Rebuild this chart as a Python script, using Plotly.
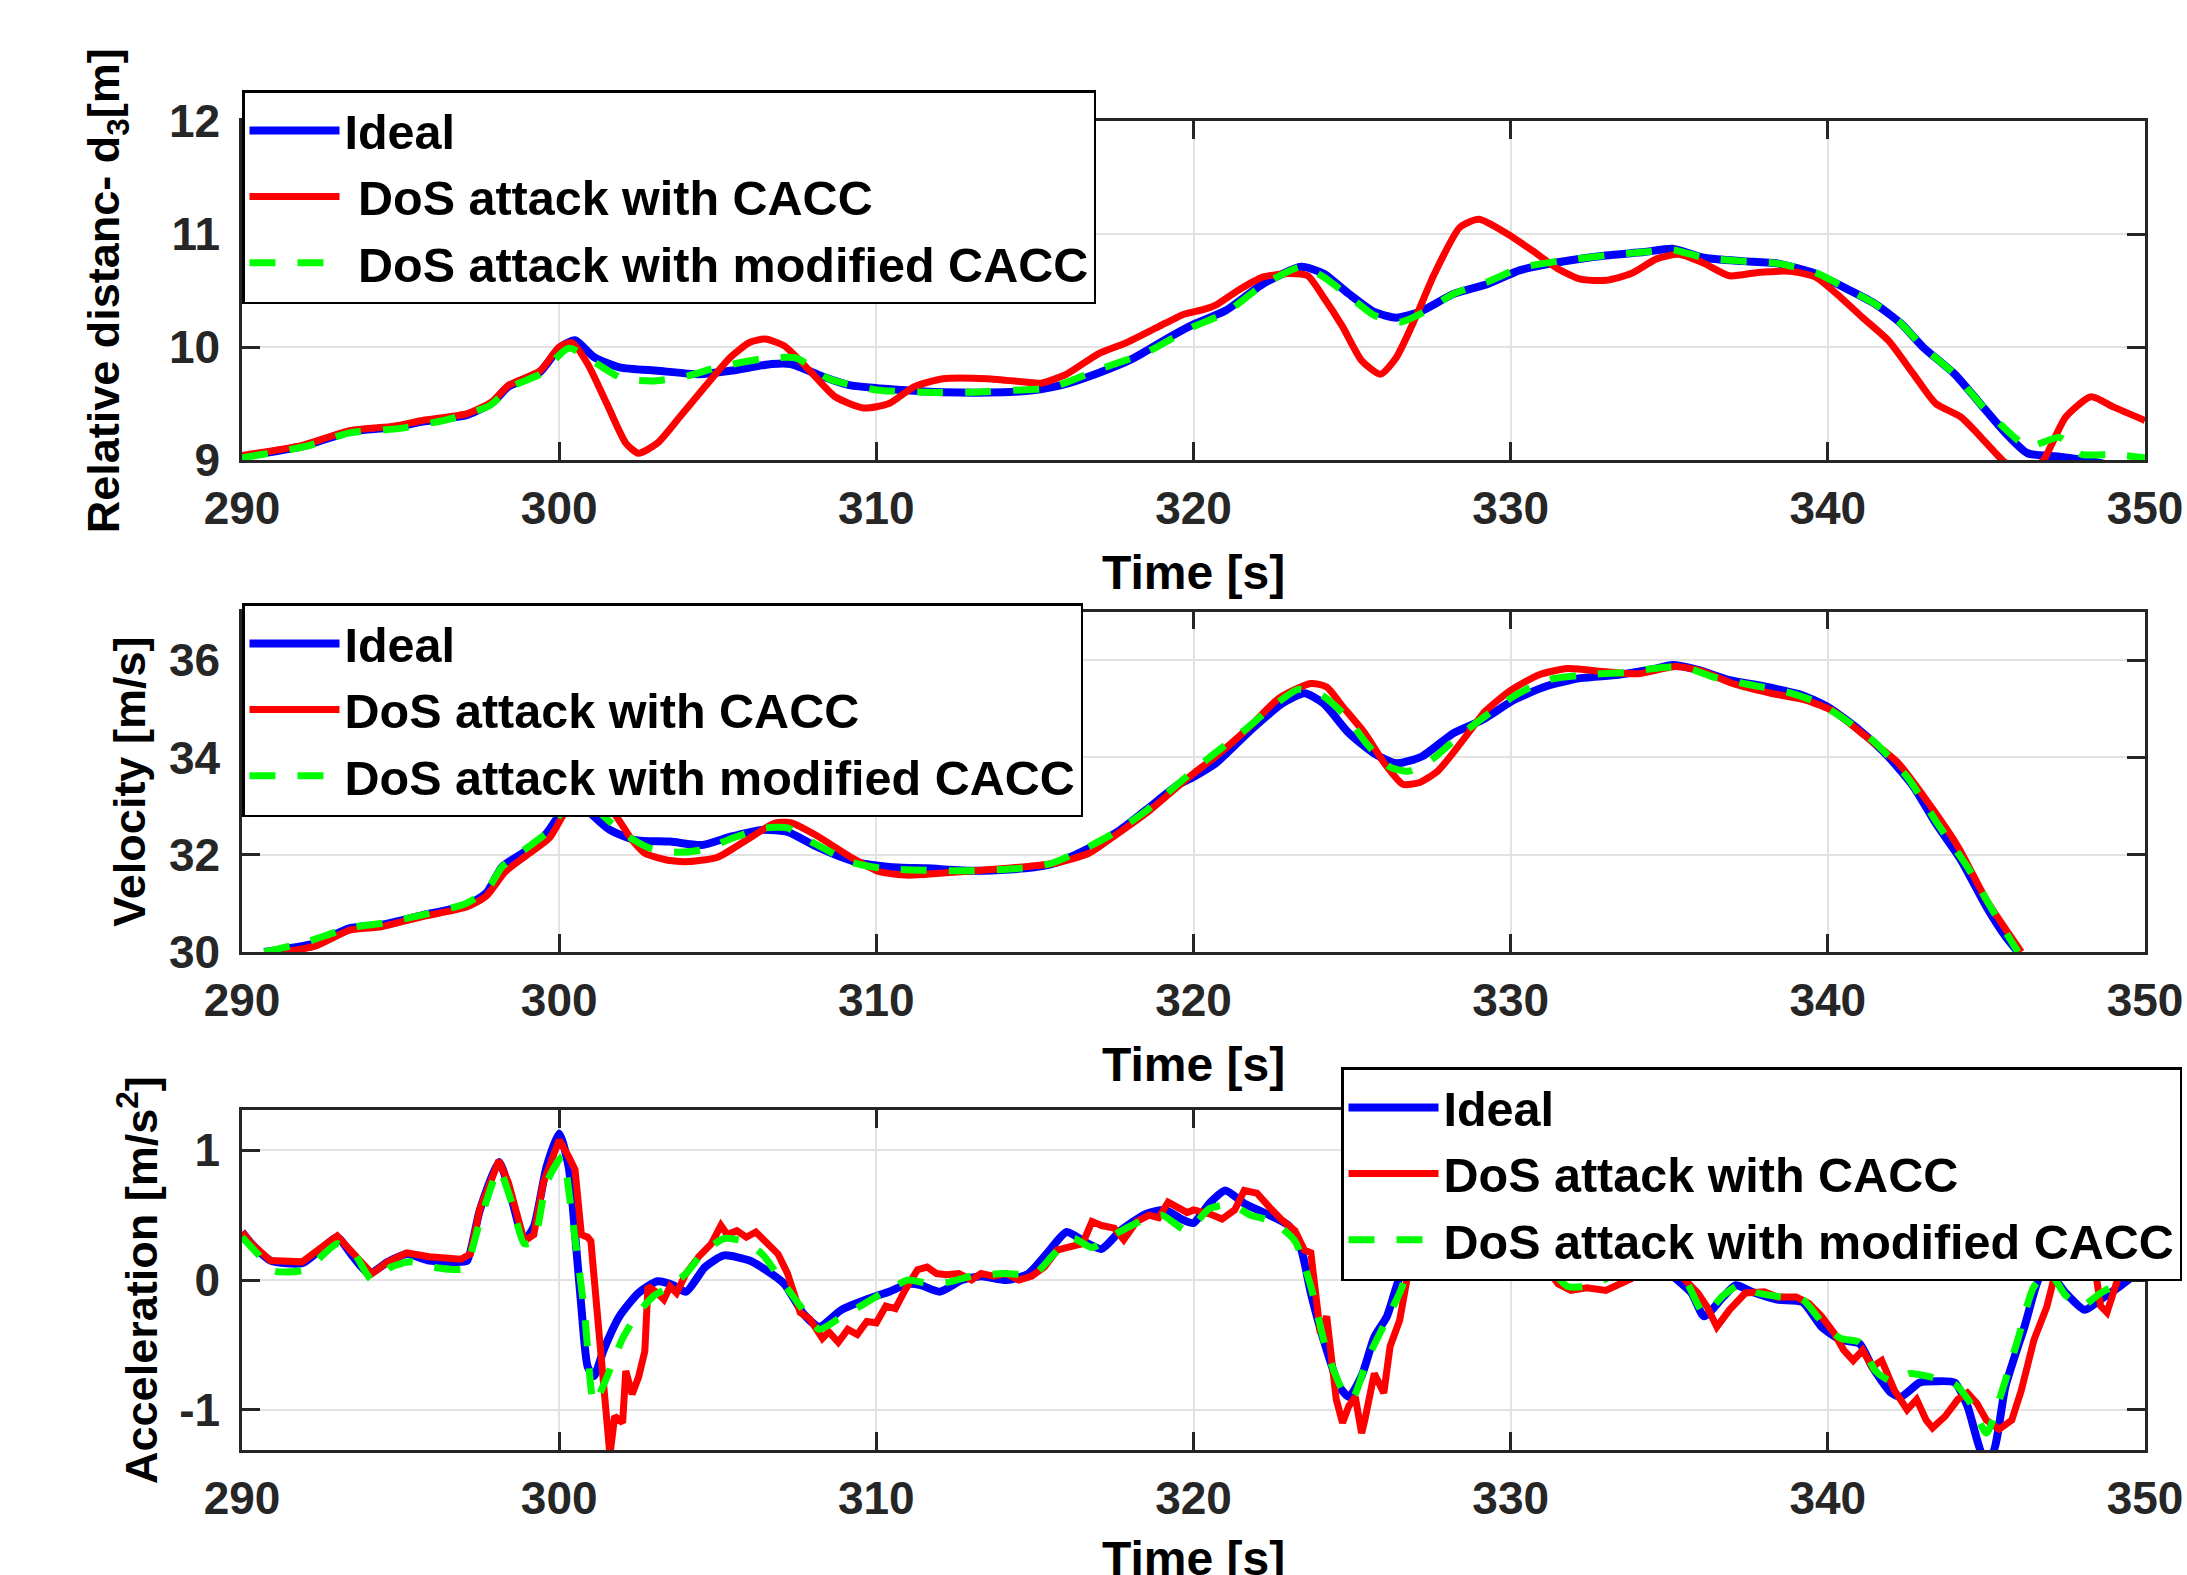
import plotly.graph_objects as go

# ---------------- DATA ----------------
# Top: relative distance d3 [m]
t_d_ideal = [290, 291.9, 293.4, 294.8, 295.7, 297.1, 297.9, 298.4, 299.4, 300.0, 300.5, 301.1, 301.9, 303.1, 304.4, 305.4, 306.7, 307.3, 308.3, 309.2, 310.8, 312.1, 314.0, 315.0, 315.8, 316.9, 318.1, 319.2, 320.0, 321.0, 322.2, 323.4, 324.1, 324.9, 325.7, 326.4, 327.2, 328.2, 329.3, 330.3, 331.5, 333.0, 334.2, 335.1, 336.1, 337.3, 338.4, 339.6, 340.7, 341.5, 342.3, 343.0, 344.0, 344.8, 345.6, 346.3, 347.3, 348.1, 349.0, 350.0]
d_ideal = [9.03, 9.12, 9.25, 9.29, 9.34, 9.40, 9.51, 9.65, 9.78, 9.99, 10.06, 9.91, 9.82, 9.79, 9.76, 9.79, 9.85, 9.85, 9.74, 9.66, 9.62, 9.60, 9.60, 9.62, 9.66, 9.76, 9.90, 10.08, 10.20, 10.32, 10.56, 10.71, 10.65, 10.47, 10.31, 10.26, 10.32, 10.47, 10.56, 10.68, 10.75, 10.81, 10.84, 10.87, 10.79, 10.76, 10.74, 10.65, 10.50, 10.38, 10.21, 10.0, 9.76, 9.50, 9.24, 9.06, 9.03, 9.0, 8.95, 8.9]

t_d_dos = [290, 291.9, 293.4, 294.8, 295.7, 297.1, 297.9, 298.4, 299.4, 300.0, 300.4, 300.9, 301.5, 302.1, 302.5, 303.1, 303.8, 304.6, 305.4, 306.0, 306.5, 307.1, 307.9, 308.7, 309.6, 310.4, 311.2, 312.1, 313.5, 314.7, 315.2, 316.0, 317.0, 317.9, 318.9, 319.7, 320.3, 320.7, 321.4, 322.2, 323.0, 323.6, 324.1, 324.7, 325.3, 325.9, 326.4, 327.0, 327.6, 328.4, 329.0, 329.9, 330.7, 331.5, 332.2, 333.0, 333.8, 334.6, 335.3, 336.1, 336.9, 337.8, 338.8, 339.6, 340.4, 341.1, 341.9, 342.7, 343.4, 344.2, 344.8, 345.5, 346.2, 346.8, 347.5, 348.3, 349.0, 350.0]
d_dos = [9.04, 9.13, 9.26, 9.30, 9.35, 9.41, 9.52, 9.66, 9.79, 10.0, 10.04, 9.85, 9.50, 9.15, 9.06, 9.15, 9.38, 9.65, 9.91, 10.04, 10.07, 10.01, 9.79, 9.56, 9.46, 9.50, 9.65, 9.72, 9.72, 9.69, 9.68, 9.76, 9.94, 10.04, 10.18, 10.29, 10.33, 10.37, 10.50, 10.62, 10.65, 10.63, 10.44, 10.18, 9.88, 9.76, 9.91, 10.26, 10.65, 11.06, 11.13, 11.0, 10.85, 10.69, 10.60, 10.59, 10.65, 10.78, 10.82, 10.74, 10.63, 10.66, 10.67, 10.62, 10.44, 10.26, 10.06, 9.76, 9.50, 9.38, 9.21, 9.0, 8.85, 9.0, 9.38, 9.56, 9.47, 9.35]

t_d_mod = [290, 292, 293.4, 295, 296.5, 297.8, 298.5, 299.4, 300.3, 301.2, 302.0, 303.0, 304.0, 305.0, 306.5, 307.5, 308.5, 310.0, 311.5, 313, 314.5, 315.5, 317, 318.5, 320, 321.0, 322.2, 323.4, 324.1, 324.9, 325.7, 326.5, 327.2, 328.2, 329.3, 330.3, 331.5, 333.0, 334.2, 335.1, 336.1, 337.3, 338.4, 339.6, 340.7, 341.5, 342.3, 343.0, 344.0, 344.8, 345.5, 346.3, 347.3, 348.0, 349.0, 350.0]
d_mod = [9.02, 9.12, 9.24, 9.28, 9.36, 9.48, 9.65, 9.76, 9.99, 9.85, 9.72, 9.70, 9.74, 9.82, 9.90, 9.90, 9.72, 9.62, 9.60, 9.60, 9.62, 9.64, 9.80, 9.95, 10.18, 10.30, 10.55, 10.71, 10.62, 10.45, 10.28, 10.22, 10.30, 10.47, 10.58, 10.70, 10.76, 10.81, 10.84, 10.86, 10.79, 10.76, 10.74, 10.66, 10.50, 10.38, 10.21, 10.0, 9.76, 9.50, 9.30, 9.12, 9.20, 9.05, 9.05, 9.02]

# Middle: velocity [m/s]
t_v_ideal = [290.7, 292.3, 293.4, 294.4, 295.7, 297.1, 297.7, 298.2, 299.0, 299.6, 300.2, 300.6, 301.0, 301.6, 302.4, 303.5, 304.5, 305.4, 306.4, 307.2, 308.1, 309.3, 310.4, 311.6, 313.1, 314.7, 315.6, 316.6, 317.6, 318.5, 319.5, 320.0, 320.7, 321.8, 322.8, 323.5, 324.1, 324.9, 325.7, 326.4, 327.2, 328.2, 329.1, 330.1, 331.1, 332.2, 333.4, 334.6, 335.1, 335.9, 336.9, 338.0, 339.2, 340.0, 341.0, 341.9, 342.7, 343.4, 344.2, 345.0, 345.6, 346.0]
v_ideal = [30.0, 30.18, 30.49, 30.56, 30.76, 30.97, 31.21, 31.75, 32.10, 32.44, 33.0, 33.2, 32.85, 32.51, 32.30, 32.27, 32.20, 32.37, 32.51, 32.47, 32.17, 31.86, 31.75, 31.72, 31.67, 31.72, 31.82, 32.10, 32.47, 32.92, 33.43, 33.6, 33.88, 34.56, 35.11, 35.32, 35.11, 34.50, 34.08, 33.88, 34.02, 34.50, 34.77, 35.18, 35.46, 35.63, 35.70, 35.83, 35.90, 35.80, 35.59, 35.46, 35.28, 35.04, 34.56, 34.02, 33.40, 32.65, 31.89, 30.93, 30.32, 30.0]

t_v_dos = [291.3, 292.3, 293.4, 294.4, 295.7, 297.1, 297.7, 298.3, 299.0, 299.7, 300.3, 300.7, 301.6, 302.3, 302.7, 303.5, 304.1, 305.0, 305.9, 306.8, 307.3, 308.1, 309.2, 310.1, 311.0, 312.0, 313.3, 314.8, 315.6, 316.7, 317.6, 318.6, 319.5, 320.0, 320.7, 321.8, 322.7, 323.7, 324.2, 324.7, 325.4, 326.0, 326.6, 327.1, 327.7, 328.5, 329.2, 330.0, 330.9, 331.8, 333.0, 334.0, 335.2, 336.0, 337.0, 338.2, 339.3, 340.2, 341.2, 342.2, 343.1, 344.1, 345.0, 345.7, 346.1]
v_dos = [30.0, 30.12, 30.45, 30.52, 30.73, 30.93, 31.15, 31.65, 32.0, 32.35, 33.0, 33.2, 32.95, 32.3, 32.03, 31.88, 31.86, 31.95, 32.3, 32.65, 32.66, 32.4, 31.95, 31.65, 31.58, 31.62, 31.68, 31.76, 31.82, 32.03, 32.43, 32.9, 33.4, 33.67, 34.02, 34.65, 35.22, 35.52, 35.45, 35.05, 34.5, 33.9, 33.45, 33.48, 33.72, 34.36, 34.95, 35.38, 35.70, 35.83, 35.76, 35.72, 35.87, 35.78, 35.52, 35.32, 35.18, 34.94, 34.43, 33.9, 33.13, 32.17, 31.07, 30.38, 30.0]

t_v_mod = [290.7, 292.0, 293.4, 294.5, 295.8, 297.0, 297.7, 298.2, 299.0, 299.7, 300.3, 300.6, 301.3, 302.0, 302.8, 303.6, 304.5, 305.5, 306.5, 307.2, 308.0, 309.2, 310.2, 311.5, 313.0, 314.5, 315.5, 316.5, 317.5, 318.5, 319.5, 320.5, 321.5, 322.5, 323.3, 324.0, 324.8, 325.5, 326.2, 326.8, 327.5, 328.3, 329.2, 330.2, 331.2, 332.4, 333.6, 334.8, 335.5, 336.4, 337.5, 338.7, 339.6, 340.5, 341.5, 342.5, 343.5, 344.4, 345.2, 345.9, 346.0]
v_mod = [30.0, 30.2, 30.5, 30.6, 30.78, 30.98, 31.25, 31.75, 32.15, 32.5, 33.1, 33.2, 32.85, 32.45, 32.15, 32.05, 32.1, 32.35, 32.55, 32.55, 32.25, 31.85, 31.72, 31.68, 31.67, 31.72, 31.82, 32.1, 32.45, 32.9, 33.45, 34.0, 34.5, 35.05, 35.4, 35.3, 34.85, 34.25, 33.8, 33.72, 33.95, 34.4, 34.85, 35.3, 35.6, 35.7, 35.75, 35.85, 35.85, 35.65, 35.5, 35.35, 35.15, 34.8, 34.3, 33.6, 32.6, 31.75, 30.85, 30.1, 30.0]

# Bottom: acceleration [m/s^2]
t_a_ideal = [290, 290.3, 290.9, 291.9, 292.5, 293.0, 293.5, 294.0, 294.6, 295.2, 295.9, 296.9, 297.1, 297.5, 298.1, 298.4, 298.9, 299.2, 299.6, 300.0, 300.3, 300.5, 300.7, 300.9, 301.1, 301.4, 301.9, 302.5, 303.1, 303.6, 304.0, 304.6, 305.2, 306.0, 306.5, 307.1, 307.7, 308.2, 308.9, 309.8, 310.4, 311.0, 311.4, 312.0, 312.7, 313.3, 314.1, 314.8, 315.4, 316.0, 316.6, 317.1, 317.7, 318.5, 319.1, 319.7, 320.0, 320.5, 321.0, 321.6, 322.4, 323.0, 323.4, 323.7, 324.1, 324.6, 324.9, 325.3, 325.7, 326.1, 326.4, 326.7, 327.5, 328.5, 329.5, 330.5, 331.5, 332.2, 333.0, 333.8, 334.4, 335.1, 335.7, 336.1, 336.7, 337.1, 337.6, 338.4, 339.2, 339.8, 340.4, 341.0, 341.4, 342.0, 342.3, 342.9, 343.4, 344.0, 344.4, 344.9, 345.2, 345.6, 346.2, 346.7, 347.0, 347.5, 348.1, 348.6, 349.2, 350.0]
a_ideal = [0.37, 0.28, 0.15, 0.13, 0.24, 0.33, 0.18, 0.05, 0.14, 0.20, 0.15, 0.14, 0.15, 0.54, 0.91, 0.72, 0.31, 0.41, 0.87, 1.13, 0.87, 0.36, -0.21, -0.67, -0.74, -0.54, -0.28, -0.10, -0.01, -0.04, -0.09, 0.10, 0.19, 0.15, 0.08, -0.03, -0.26, -0.36, -0.23, -0.14, -0.09, -0.03, -0.04, -0.09, 0.0, 0.03, 0.0, 0.05, 0.21, 0.37, 0.29, 0.24, 0.38, 0.51, 0.54, 0.46, 0.44, 0.59, 0.69, 0.59, 0.50, 0.42, 0.23, -0.10, -0.46, -0.82, -0.90, -0.74, -0.44, -0.28, -0.05, 0.15, 0.40, 0.50, 0.45, 0.30, 0.18, 0.08, 0.03, 0.13, 0.12, 0.03, -0.10, -0.28, -0.13, -0.04, -0.09, -0.15, -0.17, -0.36, -0.46, -0.49, -0.67, -0.87, -0.90, -0.79, -0.78, -0.79, -0.97, -1.35, -1.33, -0.82, -0.36, 0.03, 0.05, -0.10, -0.23, -0.15, -0.05, 0.10]

t_a_dos = [290, 290.3, 290.9, 291.9, 292.5, 293.0, 293.6, 294.1, 294.6, 295.2, 295.9, 296.9, 297.2, 297.5, 298.1, 298.4, 298.9, 299.2, 299.5, 300.0, 300.3, 300.5, 300.7, 300.9, 301.0, 301.2, 301.4, 301.6, 301.75, 302.0, 302.1, 302.3, 302.5, 302.7, 302.8, 303.1, 303.3, 303.5, 303.7, 304.0, 304.4, 304.8, 305.1, 305.3, 305.6, 305.9, 306.2, 306.5, 306.9, 307.2, 307.6, 307.9, 308.3, 308.5, 308.8, 309.1, 309.4, 309.7, 310.0, 310.3, 310.6, 310.9, 311.3, 311.6, 311.9, 312.2, 312.6, 313.0, 313.3, 313.7, 314.1, 314.5, 314.9, 315.3, 315.7, 316.0, 316.5, 316.8, 317.1, 317.5, 317.8, 318.2, 318.6, 318.9, 319.2, 319.5, 319.8, 320.0, 320.5, 320.9, 321.3, 321.6, 322.0, 322.4, 322.8, 323.2, 323.5, 323.7, 323.9, 324.0, 324.2, 324.3, 324.5, 324.7, 324.9, 325.1, 325.3, 325.4, 325.7, 326.0, 326.2, 326.5, 326.8, 327.3, 328.3, 329.3, 330.3, 331.1, 331.5, 331.9, 332.4, 333.0, 333.4, 333.8, 334.2, 334.6, 335.1, 335.5, 335.9, 336.2, 336.5, 336.9, 337.4, 338.0, 338.4, 339.0, 339.4, 339.8, 340.2, 340.5, 340.8, 341.1, 341.4, 341.7, 342.1, 342.5, 342.8, 343.1, 343.3, 343.7, 344.1, 344.4, 344.7, 345.0, 345.4, 345.8, 346.1, 346.5, 346.9, 347.2, 347.6, 348.0, 348.3, 348.6, 348.8, 349.2, 349.6, 350.0]
a_dos = [0.37, 0.28, 0.15, 0.14, 0.25, 0.34, 0.18, 0.05, 0.14, 0.21, 0.18, 0.16, 0.2, 0.55, 0.92, 0.75, 0.30, 0.35, 0.75, 1.08, 0.95, 0.85, 0.35, 0.33, 0.30, -0.25, -0.9, -1.35, -1.05, -1.1, -0.7, -0.88, -0.75, -0.55, -0.05, -0.1, -0.15, -0.05, -0.1, 0.05, 0.18, 0.28, 0.42, 0.35, 0.38, 0.33, 0.37, 0.30, 0.20, 0.05, -0.25, -0.3, -0.45, -0.4, -0.48, -0.38, -0.42, -0.32, -0.33, -0.2, -0.22, -0.08, 0.08, 0.1, 0.05, 0.04, 0.05, 0.0, 0.05, 0.03, 0.05, 0.0, 0.03, 0.1, 0.23, 0.25, 0.28, 0.45, 0.42, 0.4, 0.31, 0.45, 0.5, 0.48, 0.6, 0.56, 0.52, 0.54, 0.51, 0.47, 0.54, 0.69, 0.67, 0.56, 0.46, 0.38, 0.23, 0.21, -0.15, -0.41, -0.28, -0.46, -0.92, -1.10, -0.97, -0.90, -1.18, -1.08, -0.72, -0.87, -0.51, -0.31, 0.10, 0.45, 0.55, 0.5, 0.35, 0.10, -0.03, -0.08, -0.06, -0.08, -0.04, 0.01, 0.09, 0.13, 0.08, 0.0, -0.10, -0.21, -0.36, -0.23, -0.10, -0.09, -0.13, -0.13, -0.18, -0.28, -0.41, -0.54, -0.62, -0.54, -0.67, -0.62, -0.85, -1.0, -0.92, -1.08, -1.14, -1.05, -0.92, -0.87, -0.95, -1.08, -1.15, -1.08, -0.85, -0.46, -0.21, 0.08, 0.4, 0.5, 0.3, -0.2, -0.25, 0.05, 0.1, 0.18]

t_a_mod = [290, 290.5, 291.0, 292.0, 293.0, 293.5, 294.1, 294.7, 295.3, 296.0, 297.0, 297.5, 298.1, 298.5, 298.9, 299.2, 299.6, 300.1, 300.4, 300.8, 301.1, 301.5, 302.0, 302.5, 303.0, 303.5, 304.0, 304.5, 305.2, 305.8, 306.4, 307.0, 307.6, 308.2, 308.8, 309.5, 310.2, 311.0, 311.5, 312.2, 313.0, 314.0, 315.0, 315.6, 316.2, 316.8, 317.5, 318.3, 319.0, 319.8, 320.5, 321.2, 321.8, 322.5, 323.2, 323.7, 324.2, 324.7, 325.0, 325.5, 326.0, 326.5, 326.9, 327.8, 328.8, 329.8, 330.6, 331.2, 331.8, 332.6, 333.3, 334.0, 334.8, 335.5, 336.1, 336.7, 337.2, 337.8, 338.5, 339.2, 339.8, 340.4, 341.0, 341.5, 342.0, 342.6, 343.3, 344.0, 344.5, 345.0, 345.5, 346.0, 346.5, 347.0, 347.5, 348.0, 348.6, 349.2, 350.0]
a_mod = [0.33, 0.2, 0.07, 0.08, 0.28, 0.22, 0.0, 0.1, 0.14, 0.1, 0.09, 0.45, 0.85, 0.6, 0.28, 0.3, 0.75, 0.95, 0.5, -0.25, -0.95, -0.75, -0.45, -0.25, -0.12, -0.05, 0.05, 0.2, 0.32, 0.3, 0.2, 0.0, -0.2, -0.38, -0.3, -0.2, -0.1, 0.0, -0.02, -0.02, 0.03, 0.05, 0.05, 0.2, 0.32, 0.25, 0.35, 0.45, 0.5, 0.38, 0.55, 0.58, 0.5, 0.45, 0.3, -0.05, -0.55, -0.85, -0.92, -0.6, -0.35, -0.1, 0.15, 0.42, 0.5, 0.42, 0.28, 0.1, -0.05, -0.04, 0.05, 0.12, 0.1, 0.0, -0.26, -0.12, -0.04, -0.1, -0.13, -0.15, -0.32, -0.45, -0.48, -0.7, -0.78, -0.72, -0.75, -0.8, -0.95, -1.18, -0.85, -0.45, -0.05, 0.05, -0.12, -0.2, -0.1, -0.02, 0.08]

names_top = ["Ideal", "\u00a0DoS attack with CACC", "\u00a0DoS attack with modified CACC"]
names = ["Ideal", "DoS attack with CACC", "DoS attack with modified CACC"]
x_ticks = [290, 300, 310, 320, 330, 340, 350]
a_ticks = [-1, 0, 1]
a_ticklabels = ["-1", "0", "1"]

# ---------------- FIGURE ----------------
BLUE, RED, GREEN = "#0000FF", "#FF0000", "#00FF00"
FONT = "Liberation Sans, Arial, sans-serif"
AX = "#262626"

fig = go.Figure()

def add_set(ts, ys, nms, xa, ya, leg, red_shape="spline"):
    fig.add_trace(go.Scatter(x=ts[0], y=ys[0], name=nms[0], mode="lines",
                             line=dict(color=BLUE, width=8, shape="spline", smoothing=0.6),
                             xaxis=xa, yaxis=ya, legend=leg))
    fig.add_trace(go.Scatter(x=ts[1], y=ys[1], name=nms[1], mode="lines",
                             line=dict(color=RED, width=7, shape=red_shape, smoothing=0.6),
                             xaxis=xa, yaxis=ya, legend=leg))
    fig.add_trace(go.Scatter(x=ts[2], y=ys[2], name=nms[2], mode="lines",
                             line=dict(color=GREEN, width=7, dash="26px,22px", shape="spline", smoothing=0.6),
                             xaxis=xa, yaxis=ya, legend=leg))

add_set([t_d_ideal, t_d_dos, t_d_mod], [d_ideal, d_dos, d_mod], names_top, "x", "y", "legend")
add_set([t_v_ideal, t_v_dos, t_v_mod], [v_ideal, v_dos, v_mod], names, "x2", "y2", "legend2")
add_set([t_a_ideal, t_a_dos, t_a_mod], [a_ideal, a_dos, a_mod], names, "x3", "y3", "legend3", red_shape="linear")

tickfont = dict(family=FONT, size=46, color=AX, weight="bold")

def xax(anchor):
    return dict(anchor=anchor, domain=[0, 1], range=[290, 350], tickvals=x_ticks,
                ticks="inside", ticklen=18, tickwidth=2.5, tickcolor=AX,
                showline=True, linewidth=2.5, linecolor=AX, mirror="ticks",
                showgrid=True, gridcolor="#e2e2e2", gridwidth=2, zeroline=False,
                tickfont=tickfont, ticklabelstandoff=6)

def yax(anchor, dom, rng, tv, tt=None):
    d = dict(anchor=anchor, domain=dom, range=rng, tickvals=tv,
             ticks="inside", ticklen=18, tickwidth=2.5, tickcolor=AX,
             showline=True, linewidth=2.5, linecolor=AX, mirror="ticks",
             showgrid=True, gridcolor="#e2e2e2", gridwidth=2, zeroline=False,
             tickfont=tickfont, ticklabelstandoff=10)
    if tt is not None:
        d["ticktext"] = tt
    return d

legfont = dict(family=FONT, size=48.5, color="black", weight="bold")

def leg(x, y):
    return dict(x=x, y=y, xref="container", yref="container",
                xanchor="left", yanchor="top", bgcolor="white",
                bordercolor="black", borderwidth=2.5, font=legfont, itemwidth=90,
                tracegroupgap=0)

fig.update_layout(
    width=2187, height=1575,
    margin=dict(l=242, r=42, t=121, b=125, autoexpand=False),
    paper_bgcolor="white", plot_bgcolor="white",
    showlegend=True,
    xaxis=xax("y"), yaxis=yax("x", [0.7449, 1.0], [9, 12], [9, 10, 11, 12]),
    xaxis2=xax("y2"), yaxis2=yax("x2", [0.3747, 0.6309], [30, 37], [30, 32, 34, 36]),
    xaxis3=xax("y3"), yaxis3=yax("x3", [0.0, 0.2558], [-1.31, 1.31], a_ticks, a_ticklabels),
    legend=leg(242 / 2187, 1 - 90 / 1575),
    legend2=leg(242 / 2187, 1 - 603 / 1575),
    legend3=leg(1341 / 2187, 1 - 1067 / 1575),
)

tfont = dict(family=FONT, size=48, color="black", weight="bold")
yfont = dict(family=FONT, size=45, color="black", weight="bold")
annots = [
    dict(text="Time [s]", x=0.5, y=0.6606, xref="paper", yref="paper", showarrow=False,
         xanchor="center", yanchor="middle", font=tfont),
    dict(text="Time [s]", x=0.5, y=0.2904, xref="paper", yref="paper", showarrow=False,
         xanchor="center", yanchor="middle", font=tfont),
    dict(text="Time [s]", x=0.5, y=-0.082, xref="paper", yref="paper", showarrow=False,
         xanchor="center", yanchor="middle", font=tfont),
    dict(text="Relative distanc- d<sub>3</sub>[m]", x=-0.071, y=0.8725, xref="paper", yref="paper",
         showarrow=False, xanchor="center", yanchor="middle", textangle=-90, font=yfont),
    dict(text="Velocity [m/s]", x=-0.0589, y=0.5028, xref="paper", yref="paper",
         showarrow=False, xanchor="center", yanchor="middle", textangle=-90, font=yfont),
    dict(text="Acceleration [m/s<sup>2</sup>]", x=-0.0547, y=0.1279, xref="paper", yref="paper",
         showarrow=False, xanchor="center", yanchor="middle", textangle=-90, font=yfont),
]
fig.update_layout(annotations=annots)

fig.write_html("out.html", config={"displayModeBar": False},
               post_script="document.body.style.margin='0';document.body.style.overflow='hidden';")
